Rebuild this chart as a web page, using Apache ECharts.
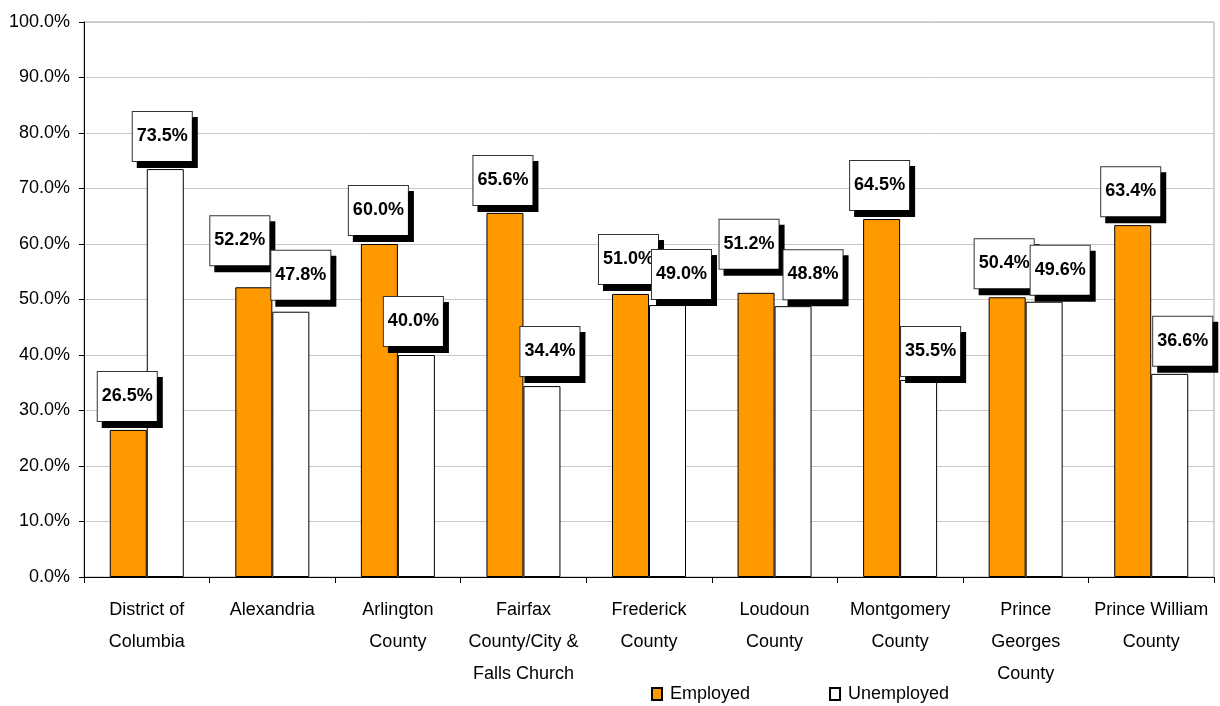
<!DOCTYPE html>
<html>
<head>
<meta charset="utf-8">
<title>Employed vs Unemployed by Jurisdiction</title>
<script src="https://cdn.jsdelivr.net/npm/echarts@6/dist/echarts.min.js"></script>
<style>
  html, body { margin: 0; padding: 0; background: #fff; }
  #chart { width: 1220px; height: 706px; }
</style>
</head>
<body>
<div id="chart"></div>
<script>
// Jurisdictions along the category axis
const categories = [
  'District of\nColumbia',
  'Alexandria',
  'Arlington\nCounty',
  'Fairfax\nCounty/City &\nFalls Church',
  'Frederick\nCounty',
  'Loudoun\nCounty',
  'Montgomery\nCounty',
  'Prince\nGeorges\nCounty',
  'Prince William\nCounty'
];

// Shares in percent
const employed   = [26.5, 52.2, 60.0, 65.6, 51.0, 51.2, 64.5, 50.4, 63.4];
const unemployed = [73.5, 47.8, 40.0, 34.4, 49.0, 48.8, 35.5, 49.6, 36.6];

// Value axis ticks
const yTicks = [0, 10, 20, 30, 40, 50, 60, 70, 80, 90, 100];

// Small nudges [dx, dy] so the value callouts do not collide
const employedLabelShift   = [[-1, -1], [-14, -14], [-1, -1], [-2, 0], [-2, -2], [-7, -16], [-2, -1], [-3, -1], [-2, -1]];
const unemployedLabelShift = [[-3, 0], [10, -4], [-3, -1], [8, -2], [14, 2], [20, 1], [12, 4], [16, 1], [13, 0]];

const FONT = "'Liberation Sans', Arial, sans-serif";

const calloutLabel = {
  show: true,
  position: 'top',
  distance: 8,
  formatter: p => p.value.toFixed(1) + '%',
  fontFamily: FONT,
  fontWeight: 'bold',
  fontSize: 18,
  lineHeight: 18,
  color: '#000',
  backgroundColor: '#fff',
  borderColor: '#333',
  borderWidth: 1,
  padding: [15, 4, 16, 4],
  shadowColor: '#000',
  shadowOffsetX: 5,
  shadowOffsetY: 6,
  shadowBlur: 0
};

function withShifts(values, shifts) {
  return values.map((v, i) => ({ value: v, label: { offset: shifts[i] } }));
}

const chart = echarts.init(document.getElementById('chart'), null, { renderer: 'canvas' });

chart.setOption({
  animation: false,
  backgroundColor: '#fff',
  textStyle: { fontFamily: FONT },
  grid: {
    left: 84, right: 6, top: 22, bottom: 129,
    outerBoundsMode: 'none',
    containLabel: false,
    show: true,
    borderColor: '#a6a6a6',
    borderWidth: 1,
    backgroundColor: 'transparent'
  },
  legend: {
    left: 651,
    top: 685,
    padding: 0,
    itemGap: 79,
    itemWidth: 10,
    itemHeight: 12,
    icon: 'rect',
    textStyle: { fontFamily: FONT, fontSize: 18, color: '#000', padding: [0, 0, 0, 3] },
    data: ['Employed', 'Unemployed']
  },
  xAxis: {
    type: 'category',
    data: categories,
    axisLine: { show: true, lineStyle: { color: '#000', width: 1 } },
    axisTick: { show: true, length: 6, lineStyle: { color: '#000' } },
    axisLabel: {
      interval: 0,
      margin: 17,
      fontFamily: FONT,
      fontSize: 18,
      lineHeight: 32,
      color: '#000'
    },
    splitLine: { show: false }
  },
  yAxis: {
    type: 'value',
    min: yTicks[0],
    max: yTicks[yTicks.length - 1],
    interval: yTicks[1] - yTicks[0],
    axisLine: { show: true, lineStyle: { color: '#000', width: 1 } },
    axisTick: { show: true, length: 5, lineStyle: { color: '#000' } },
    axisLabel: {
      margin: 14,
      fontFamily: FONT,
      fontSize: 18,
      color: '#000',
      formatter: v => v.toFixed(1) + '%'
    },
    splitLine: { show: true, lineStyle: { color: '#c8c8c8', width: 1 } }
  },
  series: [
    {
      name: 'Employed',
      type: 'bar',
      barWidth: 37,
      barGap: '0%',
      itemStyle: { color: '#FF9900', borderColor: '#000', borderWidth: 1 },
      label: calloutLabel,
      data: withShifts(employed, employedLabelShift)
    },
    {
      name: 'Unemployed',
      type: 'bar',
      barWidth: 37,
      barGap: '0%',
      itemStyle: { color: '#FFFFFF', borderColor: '#000', borderWidth: 1 },
      label: calloutLabel,
      data: withShifts(unemployed, unemployedLabelShift)
    }
  ]
});
</script>
</body>
</html>
